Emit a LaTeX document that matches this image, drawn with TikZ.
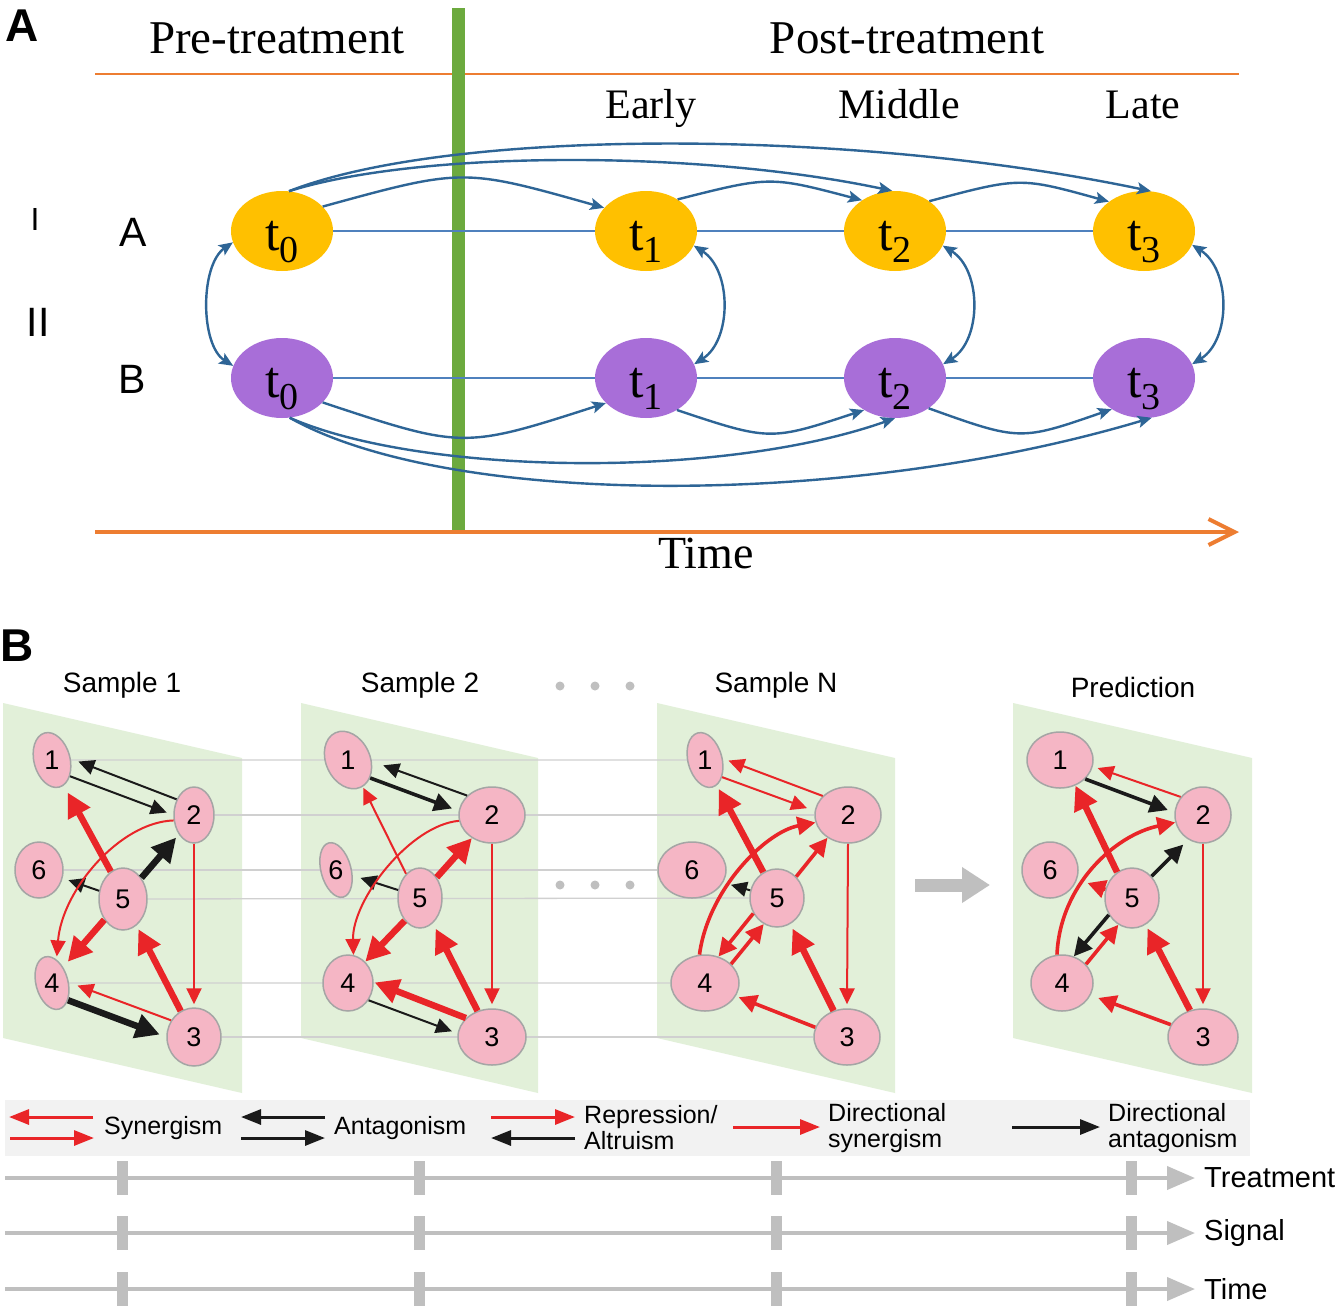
\documentclass[tikz,border=0pt]{standalone}
\usepackage{fontspec}
\setmainfont{Liberation Serif}
\newfontfamily\arial{Liberation Sans}
\usetikzlibrary{arrows.meta,shapes.geometric}
\newcommand{\fsz}[1]{\fontsize{#1}{#1}\selectfont}
\newcommand{\fszleg}{\fontsize{25}{26}\selectfont}
\newcommand{\tsub}[1]{\fsz{52}t\raisebox{-12pt}{\fsz{38}#1}}
\definecolor{orng}{RGB}{237,125,49}
\definecolor{gbar}{RGB}{108,170,62}
\definecolor{yel}{RGB}{255,192,0}
\definecolor{purp}{RGB}{168,110,216}
\definecolor{hblue}{RGB}{79,129,189}
\definecolor{ablue}{RGB}{46,101,150}
\definecolor{pgreen}{RGB}{226,240,217}
\definecolor{pinkf}{RGB}{245,182,197}
\definecolor{pinke}{RGB}{165,165,165}
\definecolor{ered}{RGB}{233,37,40}
\definecolor{eblk}{RGB}{26,26,26}
\definecolor{tgrey}{RGB}{191,191,191}
\definecolor{lgrey}{RGB}{208,208,208}
\definecolor{legbg}{RGB}{242,242,242}
\pgfdeclarelayer{bg}
\pgfsetlayers{bg,main}
\tikzset{
  ynode/.style={ellipse, fill=yel, minimum width=102pt, minimum height=80pt, inner sep=0pt, text height=44pt, text depth=6pt},
  pnode/.style={ynode, fill=purp},
  hline/.style={draw=hblue, line width=2.2pt},
  carc/.style={draw=ablue, line width=2.4pt, -{Stealth[length=14pt,width=12pt,inset=3pt]}},
  darc/.style={draw=ablue, line width=2.4pt, {Stealth[length=14pt,width=12pt,inset=3pt]}-{Stealth[length=14pt,width=12pt,inset=3pt]}},
  txt/.style={inner sep=0pt},
  rlab/.style={txt, font=\arial\fsz{41}},
  pn/.style={ellipse, fill=pinkf, draw=pinke, line width=1.5pt, inner sep=0pt, font=\arial\fsz{27}},
  rd/.style={color=ered},
  bk/.style={color=eblk},
  ethin/.style={line width=2pt, -{Triangle[length=16pt,width=15pt]}},
  emed/.style={line width=3.6pt, -{Triangle[length=18pt,width=18pt]}},
  ethick/.style={line width=6.5pt, -{Triangle[length=24pt,width=24pt]}},
  gl/.style={draw=lgrey, line width=1.3pt},
  ptitle/.style={txt, font=\arial\fsz{28}},
  lfont/.style={txt, anchor=west, align=left, font=\arial\fszleg},
  leg/.style={line width=3pt, -{Triangle[length=20pt,width=15pt]}},
  tl/.style={draw=tgrey, line width=4pt, -{Triangle[length=28pt,width=23pt]}},
}
\begin{document}
\begin{tikzpicture}[x=1pt,y=-1pt]
\useasboundingbox (0,0) rectangle (1339,1310);
\begin{pgfonlayer}{bg}
\fill[white] (0,0) rectangle (1339,1310);
\end{pgfonlayer}

% ---------------- Panel A ----------------
\node[txt, font=\arial\bfseries\fsz{46}] (labA) at (22,26) {A};
\draw[orng, line width=2.5pt] (95,74) -- (1239,74);
\fill[gbar] (452,8) rectangle (465,530);
\coordinate (ta1) at (95,532);
\coordinate (ta2) at (1239,532);
\draw[orng, line width=4pt, -{Straight Barb[length=26pt,width=26pt]}] (ta1) -- (ta2);

\node[txt, anchor=base, font=\fsz{47}] (pre) at (277,53) {Pre-treatment};
\node[txt, anchor=base, font=\fsz{47}] (post) at (907,53) {Post-treatment};
\node[txt, anchor=base, font=\fsz{42}] (early) at (651,118) {Early};
\node[txt, anchor=base, font=\fsz{42}] (middle) at (899,118) {Middle};
\node[txt, anchor=base, font=\fsz{42}] (late) at (1143,118) {Late};
\node[txt, anchor=base, font=\fsz{46}] (timeA) at (706,568) {Time};

\node[txt, font=\arial\fsz{32}] (rI) at (35,219) {I};
\node[rlab] (rII) at (38,322) {II};
\node[rlab] (rA) at (133,232) {A};
\node[rlab] (rB) at (132,379) {B};

\node[ynode] (a0) at (282,231) {\tsub{0}};
\node[ynode] (a1) at (646,231) {\tsub{1}};
\node[ynode] (a2) at (895,231) {\tsub{2}};
\node[ynode] (a3) at (1144,231) {\tsub{3}};
\node[pnode] (b0) at (282,378) {\tsub{0}};
\node[pnode] (b1) at (646,378) {\tsub{1}};
\node[pnode] (b2) at (895,378) {\tsub{2}};
\node[pnode] (b3) at (1144,378) {\tsub{3}};

\draw[hline] (a0) -- (a1);
\draw[hline] (a1) -- (a2);
\draw[hline] (a2) -- (a3);
\draw[hline] (b0) -- (b1);
\draw[hline] (b1) -- (b2);
\draw[hline] (b2) -- (b3);

\draw[carc] (a0.31) .. controls (463,168) .. (a1.151);
\draw[carc] (a1.45) .. controls (770,176) .. (a2.137);
\draw[carc] (a2.41) .. controls (1020,177) .. (a3.140);
\draw[carc] (a0.80) .. controls (420,150) and (700,150) .. (a2.94);
\draw[carc] (a0.80) .. controls (450,128) and (850,128) .. (a3.80);

\draw[carc] (b0.-31) .. controls (463,449) .. (b1.212);
\draw[carc] (b1.-46) .. controls (770,441) .. (b2.226);
\draw[carc] (b2.-42) .. controls (1020,441) .. (b3.224);
\draw[carc] (b0.-79) .. controls (420,475) and (720,480) .. (b2.-90);
\draw[carc] (b0.-79) .. controls (450,508) and (850,508) .. (b3.-79);

\draw[darc] (a0.193) .. controls (200,265) and (200,345) .. (b0.166);
\draw[darc] (a1.-17) .. controls (732,270) and (732,340) .. (b1.16);
\draw[darc] (a2.-17) .. controls (982,270) and (982,340) .. (b2.16);
\draw[darc] (a3.-16) .. controls (1231,270) and (1231,340) .. (b3.16);

% ---------------- Panel B ----------------
\node[txt, font=\arial\bfseries\fsz{46}] (labB) at (17,646) {B};
\node[ptitle] (s1) at (122,685) {Sample 1};
\node[ptitle] (s2) at (420,685) {Sample 2};
\node[ptitle] (sN) at (776,685) {Sample N};
\node[ptitle] (sP) at (1133,687) {Prediction};
\foreach \xx in {560,595,630}{
  \fill[tgrey] (\xx,686) circle (4.5pt);
  \fill[tgrey] (\xx,885) circle (4.5pt);
}

\begin{pgfonlayer}{bg}
\fill[pgreen] (3,703) -- (242,758) -- (242,1093) -- (3,1038) -- cycle;
\fill[pgreen] (301,703) -- (538,758) -- (538,1093) -- (301,1038) -- cycle;
\fill[pgreen] (657,703) -- (895,758) -- (895,1093) -- (657,1038) -- cycle;
\fill[pgreen] (1013,703) -- (1252,758) -- (1252,1093) -- (1013,1038) -- cycle;
\end{pgfonlayer}

% Sample 1 nodes
\node[pn, minimum width=36pt, minimum height=56pt, rotate=15] (p1n1) at (52,760) {\rotatebox{-15}{1}};
\node[pn, minimum width=40pt, minimum height=56pt] (p1n2) at (194,815) {2};
\node[pn, minimum width=48pt, minimum height=56pt] (p1n6) at (39,870) {6};
\node[pn, minimum width=48pt, minimum height=62pt] (p1n5) at (123,899) {5};
\node[pn, minimum width=32pt, minimum height=54pt, rotate=15] (p1n4) at (52,983) {\rotatebox{-15}{4}};
\node[pn, minimum width=54pt, minimum height=58pt] (p1n3) at (194,1037) {3};
% Sample 2 nodes
\node[pn, minimum width=44pt, minimum height=60pt, rotate=25] (p2n1) at (348,760) {\rotatebox{-25}{1}};
\node[pn, minimum width=66pt, minimum height=56pt] (p2n2) at (492,815) {2};
\node[pn, minimum width=30pt, minimum height=56pt, rotate=15] (p2n6) at (336,870) {\rotatebox{-15}{6}};
\node[pn, minimum width=44pt, minimum height=60pt] (p2n5) at (420,898) {5};
\node[pn, minimum width=50pt, minimum height=56pt] (p2n4) at (348,983) {4};
\node[pn, minimum width=68pt, minimum height=56pt] (p2n3) at (492,1037) {3};
% Sample N nodes
\node[pn, minimum width=34pt, minimum height=56pt, rotate=15] (pNn1) at (705,760) {\rotatebox{-15}{1}};
\node[pn, minimum width=66pt, minimum height=56pt] (pNn2) at (848,815) {2};
\node[pn, minimum width=68pt, minimum height=56pt] (pNn6) at (692,870) {6};
\node[pn, minimum width=54pt, minimum height=58pt] (pNn5) at (777,898) {5};
\node[pn, minimum width=68pt, minimum height=56pt] (pNn4) at (705,983) {4};
\node[pn, minimum width=66pt, minimum height=56pt] (pNn3) at (847,1037) {3};
% Prediction nodes
\node[pn, minimum width=66pt, minimum height=56pt] (pRn1) at (1060,760) {1};
\node[pn, minimum width=56pt, minimum height=56pt] (pRn2) at (1203,815) {2};
\node[pn, minimum width=56pt, minimum height=56pt] (pRn6) at (1050,870) {6};
\node[pn, minimum width=54pt, minimum height=60pt] (pRn5) at (1132,898) {5};
\node[pn, minimum width=62pt, minimum height=56pt] (pRn4) at (1062,983) {4};
\node[pn, minimum width=70pt, minimum height=56pt] (pRn3) at (1203,1037) {3};

\begin{pgfonlayer}{bg}
\draw[gl] (p1n1) -- (pNn1);
\draw[gl] (p1n2) -- (pNn2);
\draw[gl] (p1n6) -- (pNn6);
\draw[gl] (p1n5) -- (pNn5);
\draw[gl] (p1n4) -- (pNn4);
\draw[gl] (p1n3) -- (pNn3);
\end{pgfonlayer}

% Sample 1 edges
\draw[bk,ethin,shorten >=8pt] (p1n2.138) -- (p1n1.-11);
\draw[bk,ethin,shorten >=7pt] (p1n1.-57) -- (p1n2.180);
\draw[rd,ethick,shorten >=8pt] (p1n5.114) -- (p1n1.-80);
\draw[bk,ethick,shorten >=4pt] (p1n5.49) -- (p1n2.232);
\draw[bk,ethin,shorten >=6pt] (p1n5.161) -- (p1n6.-19);
\draw[rd,ethin,shorten >=3pt] (p1n2.195) .. controls (120,822) and (62,890) .. (p1n4.64);
\draw[rd,ethick,shorten >=7pt] (p1n5.228) -- (p1n4.40);
\draw[rd,ethin,shorten >=3pt] (p1n2.south) -- (p1n3.north);
\draw[rd,ethick,shorten >=4pt] (p1n3.117) -- (p1n5.-63);
\draw[rd,ethin,shorten >=9pt] (p1n3.144) -- (p1n4.-13);
\draw[bk,ethick,shorten >=7pt] (p1n4.-62) -- (p1n3.180);
% Sample 2 edges
\draw[bk,ethin,shorten >=12pt] (p2n2.142) -- (p2n1.-28);
\draw[bk,emed,shorten >=7pt] (p2n1.-64) -- (p2n2.173);
\draw[rd,ethin,shorten >=1pt] (p2n5.120) -- (p2n1.-86);
\draw[rd,ethick] (p2n5.51) -- (p2n2.229);
\draw[bk,ethin,shorten >=8pt] (p2n5.160) -- (p2n6.-33);
\draw[rd,ethin] (p2n2.190) .. controls (410,825) and (352,900) .. (p2n4.79);
\draw[rd,ethick] (p2n5.236) -- (p2n4.51);
\draw[rd,ethin,shorten >=4pt] (p2n2.south) -- (p2n3.north);
\draw[rd,ethick,shorten >=6pt] (p2n3.119) -- (p2n5.-63);
\draw[rd,ethick,shorten >=1pt] (p2n3.144) -- (p2n4.2);
\draw[bk,ethin,shorten >=6pt] (p2n4.-40) -- (p2n3.174);
% Sample N edges
\draw[rd,ethin,shorten >=6pt] (pNn2.143) -- (pNn1.-10);
\draw[rd,ethin,shorten >=8pt] (pNn1.-60) -- (pNn2.173);
\draw[rd,ethick,shorten >=4pt] (pNn5.118) -- (pNn1.-80);
\draw[rd,emed] (pNn5.48) -- (pNn2.228);
\draw[rd,emed] (pNn4.101) .. controls (708,890) and (765,832) .. (pNn2.193);
\draw[bk,ethin,shorten >=8pt] (pNn5.164) -- (pNn6.-22);
\draw[rd,emed] (pNn5.213) -- (pNn4.63);
\draw[rd,emed] (pNn4.36) -- (pNn5.243);
\draw[rd,ethin,shorten >=4pt] (pNn2.south) -- (pNn3.north);
\draw[rd,ethick,shorten >=5pt] (pNn3.117) -- (pNn5.-63);
\draw[rd,emed,shorten >=3pt] (pNn3.163) -- (pNn4.-23);
% Prediction edges
\draw[rd,ethin,shorten >=5pt] (pRn2.141) -- (pRn1.-11);
\draw[bk,emed,shorten >=7pt] (pRn1.-37) -- (pRn2.175);
\draw[rd,ethick] (pRn5.120) -- (pRn1.-59);
\draw[bk,emed,shorten >=7pt] (pRn5.48) -- (pRn2.239);
\draw[rd,emed] (pRn4.100) .. controls (1060,885) and (1115,835) .. (pRn2.195);
\draw[rd,emed,shorten >=11pt] (pRn5.162) -- (pRn6.-19);
\draw[bk,emed] (pRn5.216) -- (pRn4.66);
\draw[rd,emed] (pRn4.38) -- (pRn5.243);
\draw[rd,ethin,shorten >=4pt] (pRn2.south) -- (pRn3.north);
\draw[rd,ethick,shorten >=4pt] (pRn3.116) -- (pRn5.-63);
\draw[rd,emed,shorten >=8pt] (pRn3.159) -- (pRn4.-23);

% big grey arrow
\coordinate (ga1) at (915,885);
\coordinate (ga2) at (990,885);
\draw[tgrey, line width=13pt, -{Triangle[length=28pt,width=34pt]}] (ga1) -- (ga2);

% legend
\fill[legbg] (5,1100) rectangle (1250,1156);
\draw[leg,rd] (93,1117) -- (9,1117);
\draw[leg,rd] (10,1138) -- (94,1138);
\node[lfont] (lsyn) at (104,1128) {Synergism};
\draw[leg,bk] (325,1117) -- (241,1117);
\draw[leg,bk] (241,1138) -- (325,1138);
\node[lfont] (lant) at (334,1128) {Antagonism};
\draw[leg,rd] (491,1117) -- (575,1117);
\draw[leg,bk] (575,1138) -- (491,1138);
\node[lfont] (lrep) at (584,1128) {Repression/\\Altruism};
\draw[leg,rd] (733,1127) -- (820,1127);
\node[lfont] (ldsy) at (828,1128) {Directional\\synergism};
\draw[leg,bk] (1012,1127) -- (1100,1127);
\node[lfont] (ldan) at (1108,1128) {Directional\\antagonism};

% timelines
\foreach \yy/\lab/\nm in {1178/Treatment/tlt,1233/Signal/tls,1289/Time/tlm}{
  \draw[tl] (5,\yy) -- (1195,\yy);
  \foreach \xx in {122,419,776,1131}{
    \fill[tgrey] (\xx-5.5,\yy-17) rectangle (\xx+5.5,\yy+17);
  }
  \node[txt, anchor=west, font=\arial\fsz{29}] (\nm) at (1204,\yy) {\lab};
}
\end{tikzpicture}
\end{document}
